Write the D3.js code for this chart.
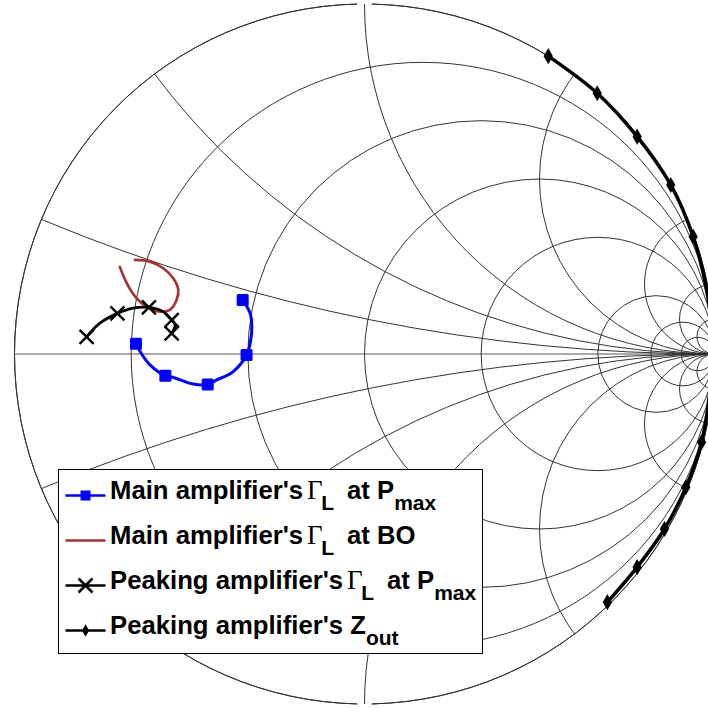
<!DOCTYPE html>
<html>
<head>
<meta charset="utf-8">
<script src="https://cdn.jsdelivr.net/npm/d3@7/dist/d3.min.js"></script>
<style>
  html, body { margin: 0; padding: 0; background: #fff; }
  svg { display: block; }
</style>
</head>
<body>
<svg id="chart" width="708" height="708"></svg>
<script>
// Smith chart grid: constant-resistance circles and constant-reactance arcs
const resistanceValues = [0.2, 0.5, 1, 2, 5, 10, 20];
const reactanceValues = [0.2, 0.5, 1, 2, 5, 10, 20];

// Main amplifier's load reflection coefficient at Pmax (real / imaginary parts)
const mainPmaxRe = [-0.348, -0.327, -0.322, -0.325, -0.337, -0.376, -0.422, -0.448, -0.489, -0.546, -0.569, -0.613, -0.641, -0.653];
const mainPmaxIm = [0.154, 0.117, 0.078, 0.040, -0.003, -0.051, -0.074, -0.087, -0.086, -0.067, -0.062, -0.031, 0.007, 0.029];
const mainPmaxMarkers = [0, 4, 7, 10, 13];

// Main amplifier's load reflection coefficient at back-off
const mainBoRe = [-0.699, -0.679, -0.651, -0.622, -0.584, -0.556, -0.537, -0.532, -0.546, -0.575, -0.613, -0.656];
const mainBoIm = [0.249, 0.202, 0.159, 0.135, 0.121, 0.126, 0.154, 0.183, 0.216, 0.245, 0.264, 0.269];

// Peaking amplifier's load reflection coefficient at Pmax
const peakPmaxRe = [-0.794, -0.756, -0.706, -0.661, -0.616, -0.575, -0.551, -0.541, -0.551];
const peakPmaxIm = [0.049, 0.088, 0.116, 0.131, 0.133, 0.121, 0.097, 0.083, 0.059];
const peakPmaxMarkers = [0, 2, 4, 6, 8];

// Peaking amplifier's output impedance (as reflection coefficient)
const peakZoutRe = [0.525, 0.665, 0.779, 0.875, 0.939, 0.978, 0.995, 0.985, 0.963, 0.918, 0.857, 0.779, 0.694];
const peakZoutIm = [0.851, 0.745, 0.621, 0.483, 0.335, 0.180, 0.020, -0.120, -0.252, -0.381, -0.500, -0.609, -0.709];
const peakZoutMarkers = [0, 1, 2, 3, 4, 8, 9, 10, 11, 12];

// Legend entries: leading text, symbol, first subscript, middle text, trailing subscript
const legendLabels = [
  { pre: "Main amplifier's", sym: "\u0393", sub1: "L", mid: "at P", sub2: "max" },
  { pre: "Main amplifier's", sym: "\u0393", sub1: "L", mid: "at BO", sub2: "" },
  { pre: "Peaking amplifier's", sym: "\u0393", sub1: "L", mid: "at P", sub2: "max" },
  { pre: "Peaking amplifier's Z", sym: "", sub1: "", mid: "", sub2: "out" }
];

const colors = { main: "#0000ff", bo: "#a33434", peak: "#000000", grid: "#333333" };

const svg = d3.select("#chart");

// Reflection-coefficient plane mapped onto the page
const sx = d3.scaleLinear().domain([-1, 1]).range([14.5, 714.5]);
const sy = d3.scaleLinear().domain([-1, 1]).range([704, 4]);
const unit = sx(1) - sx(0);

const defs = svg.append("defs");
defs.append("clipPath").attr("id", "disk")
  .append("circle").attr("cx", sx(0)).attr("cy", sy(0)).attr("r", unit);

const grid = svg.append("g")
  .attr("fill", "none")
  .attr("stroke", colors.grid)
  .attr("stroke-width", 1);

// Outer boundary |Γ| = 1, with small breaks at the top and bottom
const gap = 0.021;
const outerArc = d3.arc().innerRadius(unit).outerRadius(unit);
grid.append("path")
  .attr("transform", `translate(${sx(0)},${sy(0)})`)
  .attr("d", outerArc({ startAngle: gap, endAngle: Math.PI - gap }));
grid.append("path")
  .attr("transform", `translate(${sx(0)},${sy(0)})`)
  .attr("d", outerArc({ startAngle: Math.PI + gap, endAngle: 2 * Math.PI - gap }));

// Real axis
grid.append("line")
  .attr("x1", sx(-1)).attr("x2", sx(1))
  .attr("y1", sy(0)).attr("y2", sy(0))
  .attr("stroke", "#555");

// Constant-resistance circles
grid.selectAll("circle.r")
  .data(resistanceValues)
  .join("circle")
  .attr("class", "r")
  .attr("cx", r => sx(r / (1 + r)))
  .attr("cy", sy(0))
  .attr("r", r => unit / (1 + r));

// Constant-reactance arcs (both signs), clipped to the unit disk
const arcs = grid.append("g").attr("clip-path", "url(#disk)");
arcs.selectAll("circle.x")
  .data(reactanceValues.flatMap(x => [x, -x]))
  .join("circle")
  .attr("class", "x")
  .attr("cx", sx(1))
  .attr("cy", x => sy(1 / x))
  .attr("r", x => unit / Math.abs(x));

// Data series
const pts = (re, im) => re.map((v, i) => [sx(v), sy(im[i])]);
const smooth = d3.line().curve(d3.curveCatmullRom.alpha(0.5));

const plot = svg.append("g").attr("fill", "none");

// Peaking Zout along the rim
const zoutPts = pts(peakZoutRe, peakZoutIm);
plot.append("path")
  .attr("d", smooth(zoutPts))
  .attr("stroke", colors.peak)
  .attr("stroke-width", 3.5)
  .attr("stroke-linejoin", "round");
plot.selectAll("path.diamond")
  .data(peakZoutMarkers.map(i => zoutPts[i]))
  .join("path")
  .attr("class", "diamond")
  .attr("transform", d => `translate(${d[0]},${d[1]})`)
  .attr("d", d3.symbol(d3.symbolDiamond, 75)())
  .attr("fill", colors.peak);

// Main at back-off
plot.append("path")
  .attr("d", smooth(pts(mainBoRe, mainBoIm)))
  .attr("stroke", colors.bo)
  .attr("stroke-width", 2.7)
  .attr("stroke-linecap", "round");

// Peaking at Pmax
const peakPts = pts(peakPmaxRe, peakPmaxIm);
plot.append("path")
  .attr("d", smooth(peakPts))
  .attr("stroke", colors.peak)
  .attr("stroke-width", 2.8);
const crossPath = s => `M${-s},${-s}L${s},${s}M${-s},${s}L${s},${-s}`;
plot.selectAll("path.cross")
  .data(peakPmaxMarkers.map(i => peakPts[i]))
  .join("path")
  .attr("class", "cross")
  .attr("transform", d => `translate(${d[0]},${d[1]})`)
  .attr("d", crossPath(7))
  .attr("stroke", colors.peak)
  .attr("stroke-width", 2.4);

// Main at Pmax
const mainPts = pts(mainPmaxRe, mainPmaxIm);
plot.append("path")
  .attr("d", smooth(mainPts))
  .attr("stroke", colors.main)
  .attr("stroke-width", 3);
plot.selectAll("rect.sq")
  .data(mainPmaxMarkers.map(i => mainPts[i]))
  .join("rect")
  .attr("class", "sq")
  .attr("x", d => d[0] - 6).attr("y", d => d[1] - 6)
  .attr("width", 12).attr("height", 12)
  .attr("rx", 1.5)
  .attr("fill", colors.main);

// Legend
const legend = svg.append("g").attr("transform", "translate(58.5,469.5)");
legend.append("rect")
  .attr("width", 424).attr("height", 184)
  .attr("fill", "#fff").attr("stroke", "#000").attr("stroke-width", 1);

const rowY = d => 26 + d * 45;
const rows = legend.selectAll("g.row")
  .data(legendLabels)
  .join("g")
  .attr("class", "row")
  .attr("transform", (d, i) => `translate(0,${rowY(i)})`);

const sampleColor = [colors.main, colors.bo, colors.peak, colors.peak];
rows.append("line")
  .attr("x1", 7).attr("x2", 47).attr("y1", 0).attr("y2", 0)
  .attr("stroke", (d, i) => sampleColor[i])
  .attr("stroke-width", 2.7);

rows.filter((d, i) => i === 0).append("rect")
  .attr("x", 27 - 5).attr("y", -5).attr("width", 10).attr("height", 10)
  .attr("fill", colors.main);
rows.filter((d, i) => i === 2).append("path")
  .attr("transform", "translate(27,0)")
  .attr("d", crossPath(7))
  .attr("stroke", colors.peak).attr("stroke-width", 2.6);
rows.filter((d, i) => i === 3).append("path")
  .attr("transform", "translate(27,0)")
  .attr("d", d3.symbol(d3.symbolDiamond, 45)())
  .attr("fill", colors.peak);

const subShift = 11;
const txt = rows.append("text")
  .attr("x", 51.5).attr("y", 3)
  .attr("font-family", "'Liberation Sans', Arial, sans-serif")
  .attr("font-weight", "bold")
  .attr("font-size", 25.7)
  .attr("fill", "#000");
txt.append("tspan").text(d => d.pre);
txt.append("tspan")
  .attr("font-family", "'Liberation Serif', 'Times New Roman', serif")
  .attr("font-weight", "normal")
  .attr("font-size", 27)
  .attr("dx", d => d.sym ? 4 : 0)
  .text(d => d.sym);
txt.append("tspan")
  .attr("font-size", 21)
  .attr("dx", d => d.sub1 ? -1.5 : 0)
  .attr("dy", d => d.sub1 ? subShift : 0)
  .text(d => d.sub1);
txt.append("tspan")
  .attr("dx", d => d.mid ? 13 : 0)
  .attr("dy", d => d.sub1 ? -subShift : 0)
  .text(d => d.mid);
txt.append("tspan")
  .attr("font-size", 21).attr("dy", subShift)
  .text(d => d.sub2);
</script>
</body>
</html>
